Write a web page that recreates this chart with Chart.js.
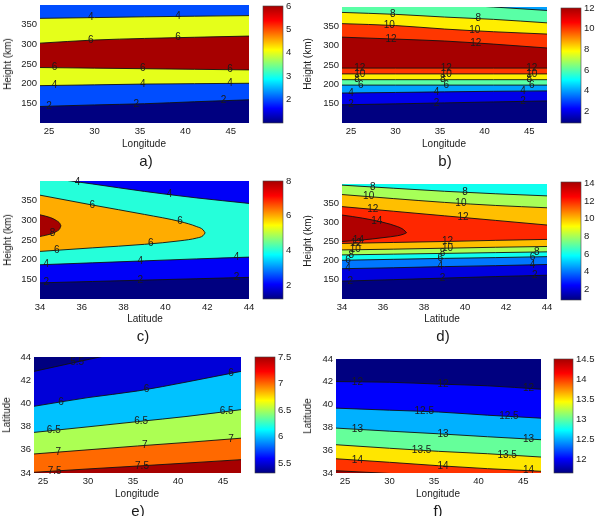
<!DOCTYPE html>
<html>
<head>
<meta charset="utf-8">
<title>Contour panels a-f</title>
<script src="https://cdn.jsdelivr.net/npm/chart.js@4.4.1/dist/chart.umd.min.js"></script>
<style>
  body { margin: 0; background: #fff; width: 597px; height: 516px; position: relative; overflow: hidden;
         font-family: 'Liberation Sans', Arial, Helvetica, sans-serif; color: #1a1a1a; }
  canvas { position: absolute; }
  .lbl { position: absolute; transform: translate(-50%, -50%); white-space: nowrap; font-size: 10px; line-height: 1; }
  .ylbl { transform: translate(-50%, -50%) rotate(-90deg); }
  .tag { font-size: 15px; }
</style>
</head>
<body>
<script>
// shared axes
const lonX = [24, 30, 35.5, 41, 47];
const latX = [34, 36.5, 39, 41.5, 44];
const lonTicks = [25, 30, 35, 40, 45];
const latTicks = [34, 36, 38, 40, 42, 44];
const heightTicks = [150, 200, 250, 300, 350];

// a) height vs longitude
const aRange = [1, 6];
const aBarTicks = [2, 3, 4, 5, 6];
const aLevels = [2, 4, 6, 6, 4];
const aBands = [2, 4, 6, 4, 2];
const aLines = [
    [142, 146, 149, 154, 159],
    [195, 197, 199, 200, 201],
    [241, 239.5, 238, 236.5, 235],
    [303, 311, 315, 318, 321],
    [366, 368, 370, 371.5, 373]
];
const aLabelX = [[25, 34.6, 44.2], [25.6, 35.3, 44.9], [25.6, 35.3, 44.9], [29.6, 39.2], [29.6, 39.2]];

// b) height vs longitude
const bRange = [0.85, 12];
const bBarTicks = [2, 4, 6, 8, 10, 12];
const bLevels = [2, 4, 6, 8, 10, 12, 12, 10, 8, 6];
const bBands = [2, 4, 6, 8, 10, 12, 10, 8, 6, 4];
const bLines = [
    [147, 149.5, 152, 154.5, 157],
    [177.5, 179, 180.5, 182, 183],
    [198, 198, 198, 198, 198],
    [212, 212, 212, 212, 212],
    [227, 227, 227, 227, 227],
    [242, 242, 242, 242, 242],
    [322, 317, 312, 304, 294],
    [357, 352, 343, 336, 330],
    [386, 381, 374, 368, 359],
    [425, 416, 408, 400, 391]
];
const bLabelX = [[25, 34.6, 44.3], [25, 34.6, 44.3], [26.1, 35.7, 45.3], [25.7, 35.3, 45], [26, 35.7, 45.3],
                 [26, 35.7, 45.3], [29.5, 39], [29.3, 38.9], [29.7, 39.3], []];

// c) height vs latitude
const cRange = [1.2, 8];
const cBarTicks = [2, 4, 6, 8];
const cLevels = [2, 4, 4];
const cBands = [2, 4, 2];
const cLines = [
    [141, 144.5, 148, 151.5, 155],
    [187, 192, 197, 202, 206.5],
    [411, 392.5, 373.5, 357, 343]
];
const cLabelX = [[34.3, 38.8, 43.4], [34.3, 38.8, 43.4], [35.8, 40.2]];
const cNoseLevels = [6, 8];
const cNoseX = [[34, 36.5, 39, 40.7, 41.5, 41.8, 41.9], [34, 34.5, 34.8, 34.95, 35]];
const cNoseTop = [[364, 339, 315, 297, 284, 276, 268], [314, 307, 299, 292, 286]];
const cNoseBottom = [[221, 230, 239, 248, 255, 261, 268], [259, 265, 272, 279, 286]];
const cNoseLabelTop = [[36.5, 40.7], []];
const cNoseLabelBottom = [[34.8, 39.3], [34.6]];

// d) height vs latitude
const dRange = [0.75, 14.2];
const dBarTicks = [2, 4, 6, 8, 10, 12, 14];
const dLevels = [2, 4, 6, 8, 10, 12, 12, 10, 8];
const dBands = [2, 4, 6, 8, 10, 12, 10, 8, 6];
const dLines = [
    [146.5, 150.5, 154.5, 158.5, 162],
    [179, 181.5, 184.5, 187, 190],
    [201, 203.5, 206, 208, 210.5],
    [215, 217, 219, 221, 223],
    [228, 230, 232.5, 235, 237],
    [245, 247.5, 250, 253, 255.5],
    [341, 329, 317, 305, 293],
    [372.5, 362, 352, 344, 338],
    [397, 389, 381, 374.5, 369]
];
const dLabelX = [[34.4, 38.9, 43.4], [34.3, 38.8, 43.3], [34.3, 38.8, 43.3], [34.45, 38.9, 43.5], [34.65, 39.15],
                 [34.7, 39.15], [35.5, 39.9], [35.3, 39.8], [35.5, 40]];
const dNoseLevels = [14];
const dNoseX = [[34, 35, 36, 36.7, 37, 37.15]];
const dNoseTop = [[319, 311, 300, 289, 281, 273]];
const dNoseBottom = [[250, 254, 260, 265, 269, 273]];
const dNoseLabelTop = [[35.7]];
const dNoseLabelBottom = [[34.8]];

// e) latitude vs longitude
const eRange = [5.31, 7.5];
const eBarTicks = [5.5, 6, 6.5, 7, 7.5];
const eLevels = [5.5, 6, 6.5, 7, 7.5];
const eBands = [5.31, 6, 6.5, 7, 7.5];
const eLines = [
    [42.76, 43.78, 44.7, 45.6, 46.6],
    [39.75, 40.5, 41.07, 41.85, 42.76],
    [37.5, 37.98, 38.43, 38.88, 39.46],
    [35.64, 36.0, 36.33, 36.64, 37.0],
    [34.06, 34.35, 34.6, 34.86, 35.15]
];
const eLabelX = [[28.8], [27, 36.5, 45.9], [26.2, 35.9, 45.4], [26.7, 36.3, 45.9], [26.3, 36]];

// f) latitude vs longitude
const fRange = [11.65, 14.5];
const fBarTicks = [12, 12.5, 13, 13.5, 14, 14.5];
const fLevels = [12, 12.5, 13, 13.5, 14, 14.5];
const fBands = [12, 12.5, 13, 13.5, 14, 14.5];
const fLines = [
    [42.02, 41.96, 41.8, 41.65, 41.35],
    [39.69, 39.51, 39.35, 39.07, 38.81],
    [37.94, 37.67, 37.44, 37.18, 36.92],
    [36.48, 36.17, 35.9, 35.69, 35.4],
    [35.25, 34.94, 34.64, 34.38, 34.15],
    [34.2, 33.96, 33.7, 33.45, 33.2]
];
const fLabelX = [[26.4, 36, 45.6], [33.9, 43.4], [26.4, 36, 45.6], [33.6, 43.2], [26.4, 36, 45.6], []];

Chart.defaults.font.family = "'Liberation Sans', Arial, Helvetica, sans-serif";
Chart.defaults.font.size = 9.5;
Chart.defaults.color = '#1a1a1a';

// jet-like colormap (dark red end a little brighter, as in the picture)
function jet(t) {
    t = Math.max(0, Math.min(1, t));
    const c = v => Math.round(Math.min(Math.max(v, 0), 1) * 255);
    const r = c(Math.min(4 * t - 1.5, 1 - (t - 0.875) * 2.8));
    const g = c(Math.min(4 * t - 0.5, -4 * t + 3.5));
    const b = c(Math.min(4 * t + 0.5, -4 * t + 2.5));
    return `rgb(${r},${g},${b})`;
}

function interp(xs, ys, x) {
    for (let i = 0; i < xs.length - 1; i++) {
        if (x >= xs[i] && x <= xs[i + 1]) {
            const t = (x - xs[i]) / (xs[i + 1] - xs[i]);
            return ys[i] + t * (ys[i + 1] - ys[i]);
        }
    }
    return ys[ys.length - 1];
}

function addText(txt, x, y, cls) {
    const d = document.createElement('div');
    d.className = 'lbl ' + (cls || '');
    d.textContent = txt;
    d.style.left = x + 'px';
    d.style.top = y + 'px';
    document.body.appendChild(d);
}

function addCanvas(left, top, w, h) {
    const cv = document.createElement('canvas');
    cv.width = w;
    cv.height = h;
    cv.style.left = left + 'px';
    cv.style.top = top + 'px';
    document.body.appendChild(cv);
    return cv;
}

function fixedTicks(vals) {
    return scale => { scale.ticks = vals.map(v => ({value: v})); };
}

function mainChart(p) {
    const [L, T, W, H] = p.plot;
    const padL = 42, padT = 8, padR = 8, axisH = 18;
    const cv = addCanvas(L - padL, T - padT, W + padL + padR, H + padT + axisH);
    const col = v => jet((v - p.range[0]) / (p.range[1] - p.range[0]));

    // painter order: each filled region is nested in the one before it
    const sets = [];
    const items = [];
    p.lines.forEach((ys, i) => {
        sets.push({
            data: p.xs.map((x, j) => ({x: x, y: ys[j]})),
            fill: p.sides ? p.sides[i] : 'end',
            backgroundColor: col(p.bands[i])
        });
        p.labelX[i].forEach(lx => items.push({x: lx, y: interp(p.xs, ys, lx), text: String(p.levels[i])}));
    });
    (p.noseLevels || []).forEach((lvl, k) => {
        const xs = p.noseX[k];
        sets.push({data: xs.map((x, j) => ({x: x, y: p.noseTop[k][j]})), fill: '+1', backgroundColor: col(lvl)});
        sets.push({data: xs.map((x, j) => ({x: x, y: p.noseBottom[k][j]})), fill: false});
        p.noseLabelTop[k].forEach(lx => items.push({x: lx, y: interp(xs, p.noseTop[k], lx), text: String(lvl)}));
        p.noseLabelBottom[k].forEach(lx => items.push({x: lx, y: interp(xs, p.noseBottom[k], lx), text: String(lvl)}));
    });
    sets.forEach((s, i) => {
        s.order = sets.length - i;
        s.borderColor = '#111';
        s.borderWidth = 0.9;
        s.pointRadius = 0;
        s.cubicInterpolationMode = 'monotone';
    });

    const bg = col(p.bg);
    const plugins = [{
        id: 'bg',
        beforeDraw(chart) {
            const a = chart.chartArea;
            chart.ctx.save();
            chart.ctx.fillStyle = bg;
            chart.ctx.fillRect(a.left, a.top, a.width, a.height);
            chart.ctx.restore();
        }
    }, {
        id: 'clabels',
        afterDatasetsDraw(chart) {
            const {ctx, scales} = chart;
            ctx.save();
            ctx.font = "10px 'Liberation Sans', Arial, sans-serif";
            ctx.fillStyle = '#1a1a1a';
            ctx.textAlign = 'center';
            ctx.textBaseline = 'middle';
            items.forEach(it => ctx.fillText(it.text, scales.x.getPixelForValue(it.x), scales.y.getPixelForValue(it.y)));
            ctx.restore();
        }
    }];

    new Chart(cv, {
        type: 'line',
        data: {datasets: sets},
        options: {
            responsive: false,
            animation: false,
            devicePixelRatio: 1,
            layout: {padding: {left: 0, top: padT, right: padR, bottom: 0}},
            plugins: {legend: {display: false}, tooltip: {enabled: false}},
            scales: {
                x: {
                    type: 'linear', min: p.xr[0], max: p.xr[1],
                    grid: {display: false, drawTicks: false}, border: {display: false},
                    afterBuildTicks: fixedTicks(p.xt),
                    afterFit: s => { s.height = axisH; s.paddingLeft = 0; s.paddingRight = 0; },
                    ticks: {callback: v => String(v), maxRotation: 0, autoSkip: false, padding: 3}
                },
                y: {
                    type: 'linear', min: p.yr[0], max: p.yr[1],
                    grid: {display: false, drawTicks: false}, border: {display: false},
                    afterBuildTicks: fixedTicks(p.yt),
                    afterFit: s => { s.width = padL; s.paddingTop = 0; s.paddingBottom = 0; },
                    ticks: {callback: v => String(v), autoSkip: false, padding: 3}
                }
            }
        },
        plugins: plugins
    });
}

function colorBar(p) {
    const [L, T, W, H] = p.bar;
    const padL = 2, padT = 8, padB = 8, axisW = 32;
    const cv = addCanvas(L - padL, T - padT, W + padL + axisW, H + padT + padB);
    const stops = [0, 0.125, 0.375, 0.625, 0.875, 1];
    new Chart(cv, {
        type: 'bar',
        data: {
            labels: [''],
            datasets: [{
                data: [[p.range[0], p.range[1]]],
                barPercentage: 1,
                categoryPercentage: 1,
                borderWidth: 0,
                backgroundColor: ctx => {
                    const a = ctx.chart.chartArea;
                    if (!a) return '#00f';
                    const g = ctx.chart.ctx.createLinearGradient(0, a.bottom, 0, a.top);
                    stops.forEach(s => g.addColorStop(s, jet(s)));
                    return g;
                }
            }]
        },
        options: {
            responsive: false,
            animation: false,
            devicePixelRatio: 1,
            layout: {padding: {left: padL, top: padT, right: 0, bottom: padB}},
            plugins: {legend: {display: false}, tooltip: {enabled: false}},
            scales: {
                x: {display: false},
                y: {
                    position: 'right', min: p.range[0], max: p.range[1],
                    grid: {display: false, drawTicks: false}, border: {display: false},
                    afterBuildTicks: fixedTicks(p.barTicks),
                    afterFit: s => { s.width = axisW; s.paddingTop = 0; s.paddingBottom = 0; },
                    ticks: {callback: v => String(v), autoSkip: false, padding: 3}
                }
            }
        },
        plugins: [{
            id: 'frame',
            afterDraw(chart) {
                const a = chart.chartArea;
                chart.ctx.save();
                chart.ctx.strokeStyle = '#444';
                chart.ctx.lineWidth = 0.6;
                chart.ctx.strokeRect(a.left, a.top, a.width, a.height);
                chart.ctx.restore();
            }
        }]
    });
}

const panels = [
    {plot: [40, 5, 209, 118], bar: [263, 6, 20, 117], xr: [24, 47], yr: [100, 400], xt: lonTicks, yt: heightTicks,
     xs: lonX, range: aRange, barTicks: aBarTicks, bg: aRange[0], levels: aLevels, bands: aBands, lines: aLines,
     labelX: aLabelX, titles: ['Longitude', 'Height (km)', 'a)'], tpos: [144, 144, 8, 64, 146, 160]},
    {plot: [342, 7, 205, 116], bar: [561, 8, 20, 115], xr: [24, 47], yr: [100, 400], xt: lonTicks, yt: heightTicks,
     xs: lonX, range: bRange, barTicks: bBarTicks, bg: bRange[0], levels: bLevels, bands: bBands, lines: bLines,
     labelX: bLabelX, titles: ['Longitude', 'Height (km)', 'b)'], tpos: [444, 144, 308, 64, 445, 160]},
    {plot: [40, 181, 209, 118], bar: [263, 181, 20, 118], xr: [34, 44], yr: [100, 400], xt: latTicks, yt: heightTicks,
     xs: latX, range: cRange, barTicks: cBarTicks, bg: cRange[0], levels: cLevels, bands: cBands, lines: cLines,
     labelX: cLabelX, noseLevels: cNoseLevels, noseX: cNoseX, noseTop: cNoseTop, noseBottom: cNoseBottom,
     noseLabelTop: cNoseLabelTop, noseLabelBottom: cNoseLabelBottom,
     titles: ['Latitude', 'Height (km)', 'c)'], tpos: [145, 319, 8, 240, 143, 335]},
    {plot: [342, 184, 205, 115], bar: [561, 182, 20, 118], xr: [34, 44], yr: [100, 400], xt: latTicks, yt: heightTicks,
     xs: latX, range: dRange, barTicks: dBarTicks, bg: dRange[0], levels: dLevels, bands: dBands, lines: dLines,
     labelX: dLabelX, noseLevels: dNoseLevels, noseX: dNoseX, noseTop: dNoseTop, noseBottom: dNoseBottom,
     noseLabelTop: dNoseLabelTop, noseLabelBottom: dNoseLabelBottom,
     titles: ['Latitude', 'Height (km)', 'd)'], tpos: [442, 319, 308, 241, 443, 335]},
    {plot: [34, 357, 207, 116], bar: [255, 357, 20, 116], xr: [24, 47], yr: [34, 44], xt: lonTicks, yt: latTicks,
     xs: lonX, range: eRange, barTicks: eBarTicks, bg: 5.5, levels: eLevels, bands: eBands, lines: eLines,
     sides: ['end', 'start', 'start', 'start', 'start'],
     labelX: eLabelX, titles: ['Longitude', 'Latitude', 'e)'], tpos: [137, 494, 7, 415, 138, 510]},
    {plot: [336, 359, 205, 114], bar: [554, 359, 19, 114], xr: [24, 47], yr: [34, 44], xt: lonTicks, yt: latTicks,
     xs: lonX, range: fRange, barTicks: fBarTicks, bg: fRange[0], levels: fLevels, bands: fBands, lines: fLines,
     sides: ['start', 'start', 'start', 'start', 'start', 'start'],
     labelX: fLabelX, titles: ['Longitude', 'Latitude', 'f)'], tpos: [438, 494, 308, 416, 438, 510]}
];

panels.forEach(p => {
    mainChart(p);
    colorBar(p);
    const t = p.tpos;
    addText(p.titles[0], t[0], t[1]);
    addText(p.titles[1], t[2], t[3], 'ylbl');
    addText(p.titles[2], t[4], t[5], 'tag');
});
</script>
</body>
</html>
